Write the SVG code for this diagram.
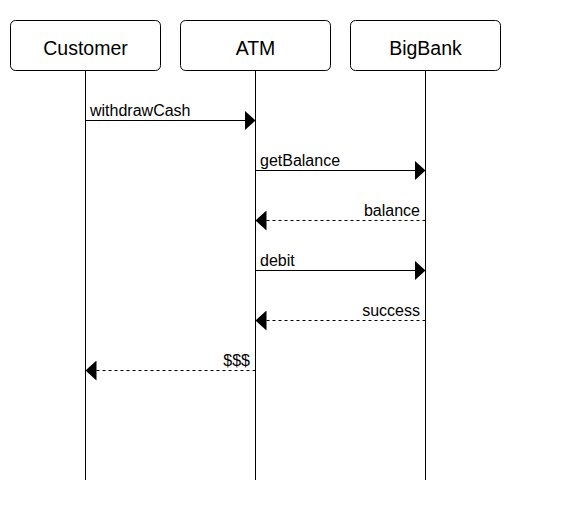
<svg xmlns="http://www.w3.org/2000/svg" width="570" height="510" viewBox="0 0 570 510">
<style>
.box{fill:#fff;stroke:#000;stroke-width:1}
.life{stroke:#000;stroke-width:1}
.hdr{font-family:"Liberation Sans",Arial,sans-serif;font-size:19.5px;text-anchor:middle;fill:#000}
.lbl{font-family:"Liberation Sans",Arial,sans-serif;font-size:16px;fill:#000}
.end{text-anchor:end}
.msg{stroke:#000;stroke-width:1;fill:none}
.ret{stroke-dasharray:3,3}
</style>
<defs>
<marker id="ah" markerWidth="11" markerHeight="20" refX="11" refY="10" orient="auto" markerUnits="userSpaceOnUse">
<path d="M0,0 L11,10 L0,20 Z" fill="#000"/>
</marker>
</defs>
<rect width="570" height="510" fill="#fff"/>
<g id="customer">
<rect class="box" x="10.5" y="20.5" width="150" height="50" rx="5"/>
<line class="life" x1="85.5" y1="70.5" x2="85.5" y2="480"/>
<text class="hdr" x="85.5" y="55">Customer</text>
</g>
<g id="atm">
<rect class="box" x="180.5" y="20.5" width="150" height="50" rx="5"/>
<line class="life" x1="255.5" y1="70.5" x2="255.5" y2="480"/>
<text class="hdr" x="255.5" y="55">ATM</text>
</g>
<g id="bigbank">
<rect class="box" x="350.5" y="20.5" width="150" height="50" rx="5"/>
<line class="life" x1="425.5" y1="70.5" x2="425.5" y2="480"/>
<text class="hdr" x="425.5" y="55">BigBank</text>
</g>
<g id="connectors">
<line class="msg" x1="85.5" y1="120.5" x2="255.5" y2="120.5" marker-end="url(#ah)"/>
<text class="lbl" x="90" y="116">withdrawCash</text>
<line class="msg" x1="255.5" y1="170.5" x2="425.5" y2="170.5" marker-end="url(#ah)"/>
<text class="lbl" x="260" y="166">getBalance</text>
<line class="msg ret" x1="425.5" y1="220.5" x2="255.5" y2="220.5" marker-end="url(#ah)"/>
<text class="lbl end" x="420" y="216">balance</text>
<line class="msg" x1="255.5" y1="270.5" x2="425.5" y2="270.5" marker-end="url(#ah)"/>
<text class="lbl" x="260" y="266">debit</text>
<line class="msg ret" x1="425.5" y1="320.5" x2="255.5" y2="320.5" marker-end="url(#ah)"/>
<text class="lbl end" x="420" y="316">success</text>
<line class="msg ret" x1="255.5" y1="370.5" x2="85.5" y2="370.5" marker-end="url(#ah)"/>
<text class="lbl end" x="250" y="366">$$$</text>
</g>
</svg>
